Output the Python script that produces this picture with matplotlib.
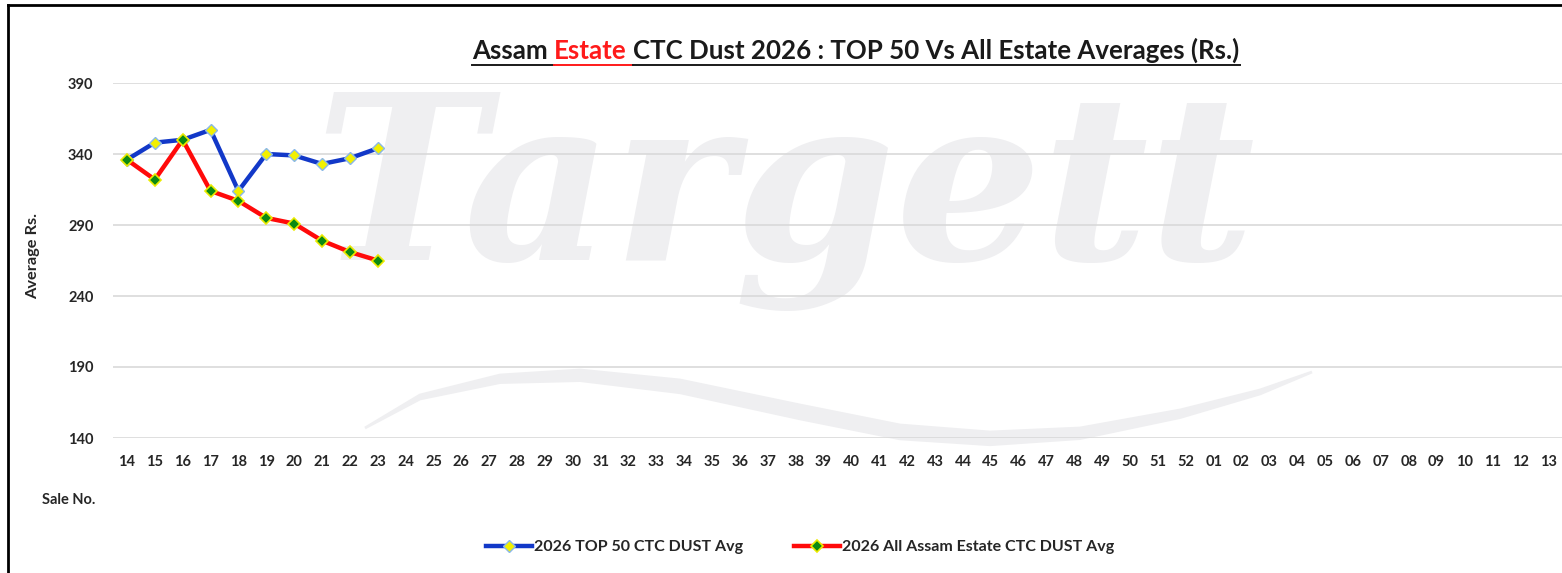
import matplotlib
matplotlib.use("Agg")
import numpy as np
import matplotlib.pyplot as plt
from matplotlib.lines import Line2D
from matplotlib.patches import Polygon

# sale numbers run 14..52 then 01..13
sale_no = [f"{n:02d}" for n in list(range(14, 53)) + list(range(1, 14))]
top50_avg = [336, 348, 350, 357, 314, 340, 339, 333, 337, 344]
all_estate_avg = [336, 322, 350, 314, 307, 295, 291, 279, 271, 265]
y_ticks = [140, 190, 240, 290, 340, 390]

FONT = "Lato"
TXT = "#262626"
WM = "#efeff1"
W, H = 1562, 573

plt.rcParams["font.family"] = [FONT, "DejaVu Sans"]
fig = plt.figure(figsize=(W / 100, H / 100), dpi=100)

# faint watermark behind the plot
fig.text(314 / W, 1 - 260 / H, "Targett", fontsize=166, family="DejaVu Serif",
         style="italic", weight="bold", color=WM, zorder=-5)
sx = np.array([365, 420, 500, 580, 680, 800, 900, 990, 1080, 1180, 1260, 1312])
sy = np.array([428, 395, 375, 370, 380, 405, 425, 432, 428, 410, 390, 372])
thick = 14 * np.sin(np.linspace(0, np.pi, len(sx)))
pts = np.vstack([np.column_stack([sx, sy]), np.column_stack([sx, sy + thick])[::-1]])
fig.add_artist(Polygon(np.column_stack([pts[:, 0] / W, 1 - pts[:, 1] / H]),
                       closed=True, fc=WM, ec=WM, lw=2, zorder=-5))

ax = fig.add_axes([113 / W, 1 - 438 / H, 1 - 113 / W, (438 - 83) / H])
ax.patch.set_visible(False)

x = range(len(top50_avg))
ax.plot(x, top50_avg, color="#1238c8", lw=3.2, marker="D", ms=6.5,
        mfc="#f2f000", mec="#8ab8e8", mew=1.0, label="2026 TOP 50 CTC DUST Avg")
ax.plot(range(len(all_estate_avg)), all_estate_avg, color="#ff0a0a", lw=3.2, marker="D", ms=6.5,
        mfc="#0b8a12", mec="#eaea00", mew=1.2, label="2026 All Assam Estate CTC DUST Avg")

ax.set_xlim(-0.5, len(sale_no) - 0.5)
ax.set_ylim(140, 390)
ax.set_xticks(range(len(sale_no)))
ax.set_xticklabels(sale_no)
ax.set_yticks(y_ticks)
ax.grid(axis="y", color="#d9d9d9", lw=1.2)
ax.set_axisbelow(True)
for s in ax.spines.values():
    s.set_visible(False)
ax.tick_params(length=0, labelsize=10.5, colors=TXT, pad=14)
ax.tick_params(axis="x", pad=12)
for lab in ax.get_xticklabels() + ax.get_yticklabels():
    lab.set_fontweight("bold")

fig.text(42 / W, 1 - 500 / H, "Sale No.", fontsize=10.5, weight="bold", color=TXT, va="center")
fig.text(33 / W, 1 - 256 / H, "Average Rs.", fontsize=11.8, weight="bold", color=TXT,
         rotation=90, va="center", ha="center")

fig.legend(loc="center", bbox_to_anchor=(800 / W, 1 - 547 / H), ncol=2, frameon=False,
           handlelength=2.9, columnspacing=3.2, handletextpad=0.1,
           prop={"family": FONT, "weight": "bold", "size": 11.5})
for t in fig.legends[0].get_texts():
    t.set_color(TXT)

# border lines (left and top)
fig.add_artist(Line2D([8 / W, 8 / W], [0, 1 - 5 / H], color="black", lw=2))
fig.add_artist(Line2D([8 / W, 1], [1 - 5 / H, 1 - 5 / H], color="black", lw=2))

# title with coloured word and underline
parts = [("Assam", "#1a1a1a"), ("Estate", "#ff1a1a"),
         ("CTC Dust 2026 : TOP 50 Vs All Estate Averages (Rs.)", "#1a1a1a")]
tsize = 18.6
fig.canvas.draw()
r = fig.canvas.get_renderer()


def width(s):
    t = fig.text(0, 0, s, fontsize=tsize, weight="bold")
    w = t.get_window_extent(r).width
    t.remove()
    return w


space = width("a b") - width("ab")
widths = [width(p) for p, _ in parts]
total = sum(widths) + space * (len(parts) - 1)
cx, base = 856, H - 59
xpos = cx - total / 2
for i, ((p, c), w) in enumerate(zip(parts, widths)):
    fig.text(xpos / W, base / H, p, fontsize=tsize, weight="bold", color=c, va="baseline")
    ext = space if i < len(parts) - 1 else 0
    ucol = c if i == 1 else "#1a1a1a"
    fig.add_artist(Line2D([xpos / W, (xpos + w + ext) / W], [(base - 6) / H] * 2,
                          color=ucol, lw=1.4))
    xpos += w + space

fig.savefig("out.png", dpi=100)
